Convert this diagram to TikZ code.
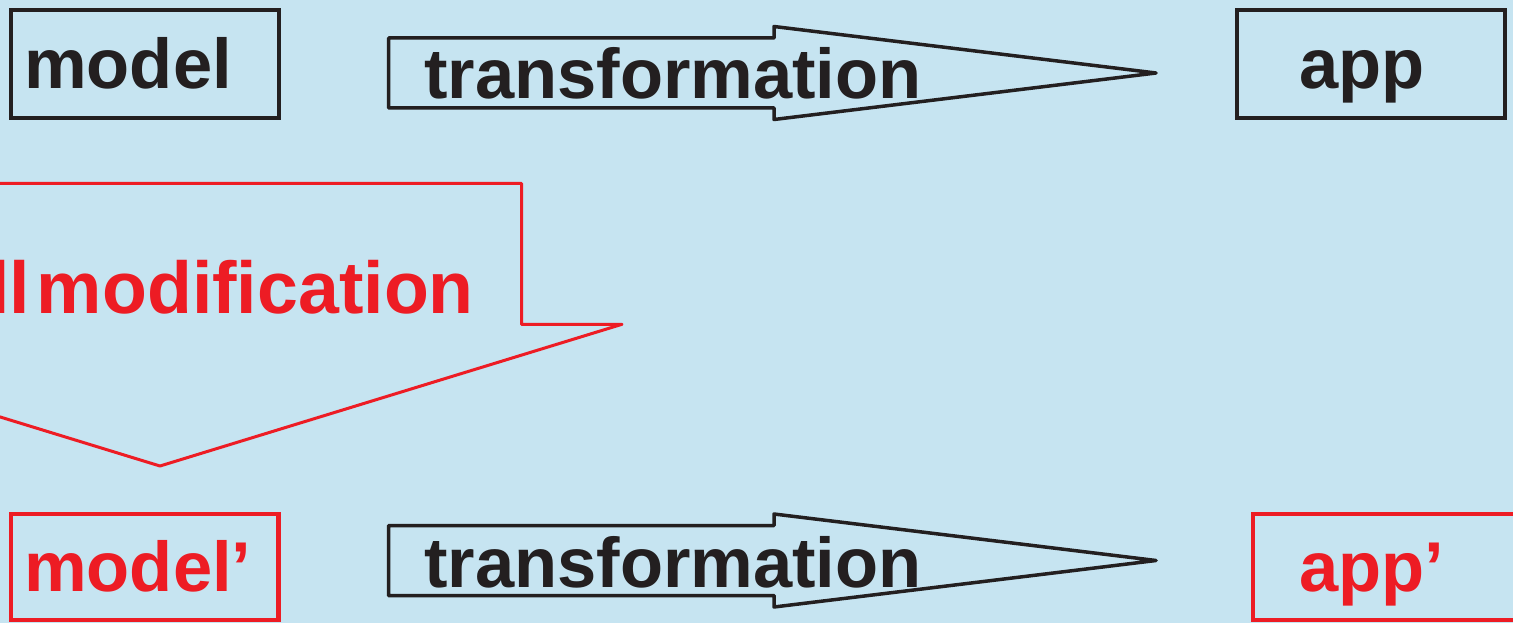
\documentclass[tikz,border=0pt]{standalone}
\usepackage{fontspec}
\setmainfont{Liberation Sans}
\usepackage{tikz}

\definecolor{bgblue}{RGB}{198,228,241}
\definecolor{ink}{RGB}{35,31,32}
\definecolor{hotred}{RGB}{237,28,36}

\begin{document}
\begin{tikzpicture}[x=1pt,y=-1pt,line join=miter,
    word/.style={inner sep=0pt,anchor=base west,font=\fontsize{70.5}{80}\selectfont\bfseries},
    box/.style={draw,inner sep=0pt,minimum width=267.5pt,minimum height=108pt},
    old box/.style={box,draw=ink,line width=4pt},
    new box/.style={box,draw=hotred,line width=4.5pt},
    fat arrow/.style={draw=ink,line width=3.5pt,line join=round}]
    \useasboundingbox (0,0) rectangle (1513,623);
    \fill[bgblue] (0,0) rectangle (1513,623);
    \clip (0,0) rectangle (1513,623);

    % boxes
    \node[old box] (model) at (144.75,64.25) {};
    \node[old box] (app) at (1370.75,64.25) {};
    \node[new box,minimum height=106pt] (model2) at (144.6,567) {};
    \node[new box,minimum height=106pt] (app2) at (1386.75,567) {};

    % transformation arrows
    \foreach \yc/\nm in {73/t1,560.5/t2}{
      \coordinate (\nm) at (388.5,\yc);
      \draw[fat arrow] (\nm) ++(0,-35) -- ++(385.5,0) -- ++(0,-11.5)
        -- (1156,\yc) -- (774,\yc+46.5) -- ++(0,-11.5) -- (388.5,\yc+35) -- cycle;
    }

    % modification arrow
    \draw[draw=hotred,line width=3pt,line join=round] (-202,183.3) -- (521.5,183.3) -- (521.5,324.3)
      -- (622,324.3) -- (160,466) -- (-302,324.3) -- (-202,324.3) -- cycle;

    % labels
    \node[word,text=ink] (modeltxt) at (24,89) {model};
    \node[word,text=ink] (apptxt) at (1299,88.5) {app};
    \node[word,text=ink] (trtxt1) at (424,99) {transformation};
    \node[word,text=ink] (trtxt2) at (424,587) {transformation};
    \node[word,text=hotred,anchor=base east,font=\fontsize{73.5}{80}\selectfont\bfseries]
      (modtxt) at (474,313) {small\hspace{7pt}modification};
    \node[word,text=hotred] (model2txt) at (24,591) {model’};
    \node[word,text=hotred] (app2txt) at (1299,591) {app’};
\end{tikzpicture}
\end{document}
